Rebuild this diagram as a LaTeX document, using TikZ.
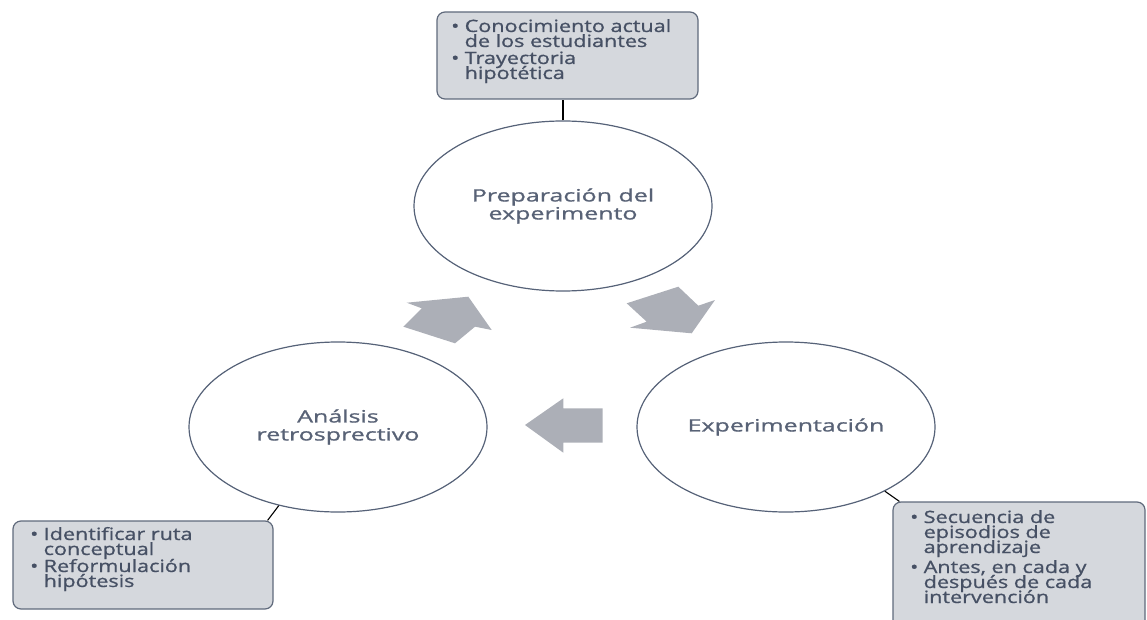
\documentclass[tikz,border=0pt]{standalone}
\usepackage{fontspec}
\usepackage{graphicx}
\setmainfont{Open Sans}
\newfontfamily\txtfont{Open Sans}[FakeBold=0.8]
\usetikzlibrary{shapes.geometric}
\definecolor{ringcol}{RGB}{86,98,120}
\definecolor{ctextcol}{RGB}{88,98,118}
\definecolor{boxfill}{RGB}{213,216,221}
\definecolor{boxline}{RGB}{96,106,124}
\definecolor{btextcol}{RGB}{70,80,100}
\definecolor{arrowcol}{RGB}{172,175,183}
\newcommand{\sxc}[1]{\scalebox{1.47}[1]{#1}}
\newcommand{\sxb}[1]{\scalebox{1.27}[1]{#1}}
\newcommand{\bul}{\makebox[13.5pt][l]{\sxb{•}}}
\newcommand{\ind}{\hspace*{13.5pt}}
\newcommand{\tightlines}{\baselineskip=15pt\relax\lineskiplimit=-30pt\relax\lineskip=0pt\relax}
\newcommand{\circlines}{\baselineskip=18pt\relax\lineskiplimit=-30pt\relax\lineskip=0pt\relax}
\newcommand{\blines}[1]{\vtop{\tightlines #1}}
\newcommand{\cfont}{\txtfont\fontsize{17}{18}\selectfont}
\newcommand{\bfontx}{\txtfont\fontsize{17}{15}\selectfont}
\tikzset{
  phase/.style={ellipse, draw=ringcol, line width=1.2pt, fill=white,
    minimum width=298pt, minimum height=170pt, inner sep=0pt,
    text=ctextcol, font=\cfont},
  infobox/.style={draw=boxline, line width=1.2pt, fill=boxfill, rounded corners=8pt,
    inner sep=0pt},
  btext/.style={anchor=base west, inner sep=0pt, text=btextcol, font=\bfontx},
  blockarrow/.style={fill=arrowcol, draw=none},
  link/.style={draw=black, line width=1.1pt}
}
\begin{document}
\begin{tikzpicture}[x=1pt,y=-1pt]
\useasboundingbox (0,0) rectangle (1147,620);
\clip (0,0) rectangle (1147,620);

% info boxes
\node[infobox, minimum width=261pt, minimum height=87pt] (bt) at (567.5,55.5) {};
\node[infobox, minimum width=260pt, minimum height=88pt] (bl) at (143,565) {};
\node[infobox, minimum width=252pt, minimum height=130pt] (br) at (1019,567) {};

% phases
\node[phase] (prep) at (563,206) {\vbox{\circlines
  \hbox to 0pt{\hss\sxc{Preparación del}\hss}
  \hbox to 0pt{\hss\sxc{experimento}\hss}}};
\node[phase] (ana) at (338,427) {\vbox{\circlines
  \hbox to 0pt{\hss\sxc{Análsis}\hss}
  \hbox to 0pt{\hss\sxc{retrosprectivo}\hss}}};
\node[phase] (exp) at (786,427) {\sxc{Experimentación}};

% box texts
\node[btext] (tt) at (451,32) {\blines{%
  \hbox{\bul\sxb{Conocimiento actual}}
  \hbox{\ind\sxb{de los estudiantes}}\vskip2pt
  \hbox{\bul\sxb{Trayectoria}}
  \hbox{\ind\sxb{hipotética}}}};
\node[btext] (tl) at (30,540) {\blines{%
  \hbox{\bul\sxb{Identificar ruta}}
  \hbox{\ind\sxb{conceptual}}\vskip2pt
  \hbox{\bul\sxb{Reformulación}}
  \hbox{\ind\sxb{hipótesis}}}};
\node[btext] (tr) at (910,523) {\blines{%
  \hbox{\bul\sxb{Secuencia de}}
  \hbox{\ind\sxb{episodios de}}
  \hbox{\ind\sxb{aprendizaje}}\vskip5pt
  \hbox{\bul\sxb{Antes, en cada y}}
  \hbox{\ind\sxb{después de cada}}
  \hbox{\ind\sxb{intervención}}}};

% connectors
\draw[link] (prep.north) -- (prep.north |- bt.south);
\draw[link] (ana.233) -- ([xshift=-6pt]bl.north east);
\draw[link] (exp.327) -- ([xshift=7pt]br.north west);

% cycle arrows
\fill[blockarrow] (468.3,296.7) -- (491.7,330) -- (475,326.7) -- (455,343.3)
  -- (403.3,326.7) -- (421.7,308.3) -- (406.7,302.7) -- cycle;
\fill[blockarrow] (691.7,333.3) -- (715,300) -- (698.3,305.7) -- (678.3,286.7)
  -- (626.7,303.3) -- (646.7,321.7) -- (630,327.7) -- cycle;
\fill[blockarrow] (525,425) -- (563.3,398.3) -- (563.3,408.3) -- (602.7,408.3)
  -- (602.7,442.7) -- (563.3,442.7) -- (563.3,452.7) -- cycle;
\end{tikzpicture}
\end{document}
